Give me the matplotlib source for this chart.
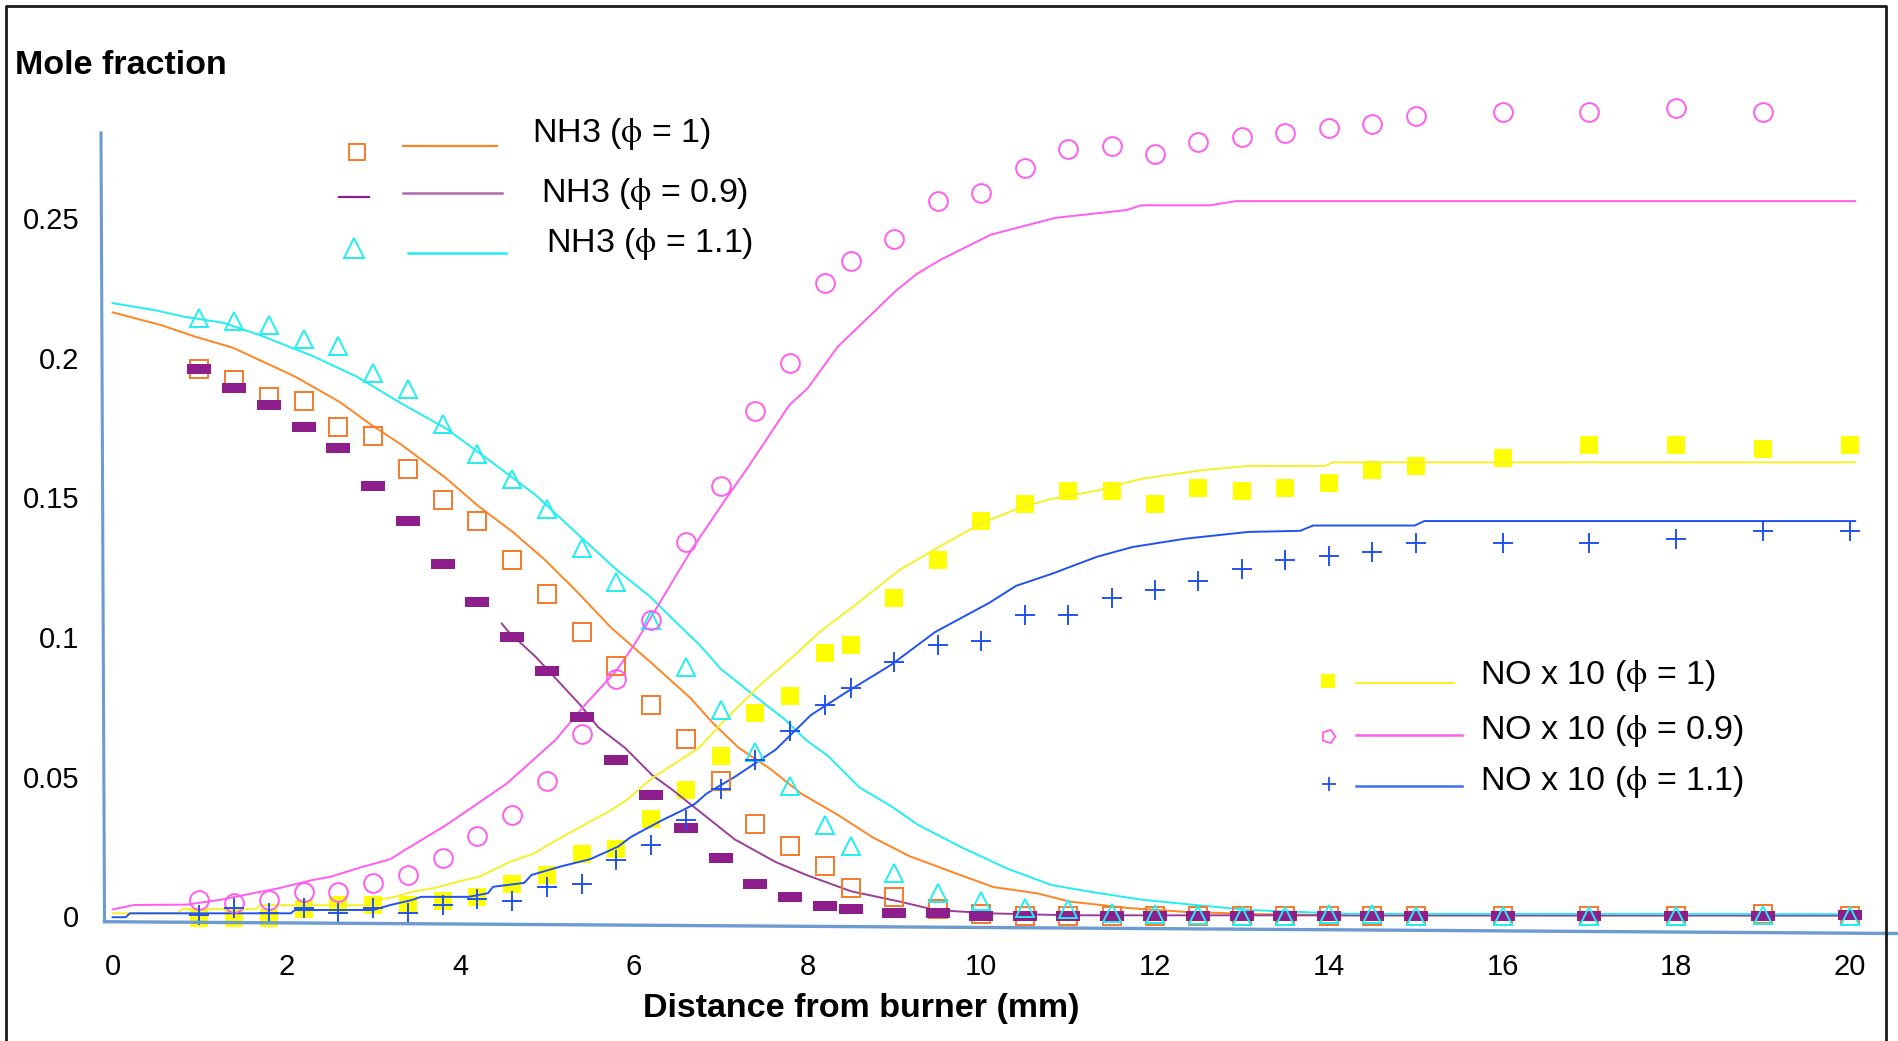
import matplotlib
matplotlib.use('Agg')
import matplotlib.pyplot as plt
from matplotlib.path import Path
from matplotlib.lines import Line2D

plt.rcParams['font.family'] = ['Liberation Sans', 'DejaVu Sans']
plt.rcParams['mathtext.fontset'] = 'stix'

# ---------------- data ----------------
x_exp = [1.0, 1.4, 1.8, 2.2, 2.6, 3.0, 3.4, 3.8, 4.2, 4.6, 5.0, 5.4, 5.8, 6.2, 6.6,
         7.0, 7.4, 7.8, 8.2, 8.5, 9.0, 9.5, 10, 10.5, 11, 11.5, 12, 12.5, 13, 13.5,
         14, 14.5, 15, 16, 17, 18, 19, 20]

nh3_phi1_exp = [0.196, 0.192, 0.186, 0.1845, 0.175, 0.172, 0.160, 0.149, 0.1415, 0.1276,
                0.1154, 0.1018, 0.0895, 0.0755, 0.0635, 0.0484, 0.0331, 0.0253, 0.0179, 0.010,
                0.007, 0.0026, 0.0009, 0.0, 0.0, 0.0, 0.0, 0.0, 0.0, 0.0,
                0.0, 0.0, 0.0, 0.0, 0.0, 0.0, 0.001, 0.0]
nh3_phi09_exp = [0.196, 0.189, 0.183, 0.175, 0.1675, 0.154, 0.1415, 0.126, 0.1125, 0.100,
                 0.088, 0.0712, 0.0561, 0.0436, 0.0315, 0.0209, 0.0115, 0.0071, 0.0038, 0.0026,
                 0.0011, 0.0011, 0.0, 0.0, 0.0, 0.0, 0.0, 0.0, 0.0, 0.0,
                 0.0, 0.0, 0.0, 0.0, 0.0, 0.0, 0.0, 0.0005]
nh3_phi11_exp = [0.214, 0.213, 0.2115, 0.2065, 0.204, 0.1944, 0.1887, 0.1764, 0.1654, 0.1565,
                 0.1457, 0.1319, 0.1197, 0.106, 0.0892, 0.0739, 0.0587, 0.0466, 0.0327, 0.0253,
                 0.0157, 0.0082, 0.0056, 0.003, 0.0025, 0.0012, 0.001, 0.0005, 0.0, 0.0,
                 0.001, 0.001, 0.0, 0.0, 0.0, 0.0, 0.0005, 0.0]

no_phi1_exp = [-0.0005, -0.0005, -0.0005, 0.0026, 0.0041, 0.0041, 0.0041, 0.0056, 0.007, 0.0117,
               0.0148, 0.0223, 0.024, 0.0348, 0.0451, 0.0573, 0.0727, 0.0788, 0.0941, 0.0971,
               0.1139, 0.1275, 0.1415, 0.1476, 0.1522, 0.1522, 0.1476, 0.1535, 0.1522, 0.1535,
               0.155, 0.1596, 0.1611, 0.1641, 0.1688, 0.1688, 0.1673, 0.1688]
x_no09_exp = x_exp[:-1]
no_phi09_exp = [0.0059, 0.0047, 0.0059, 0.0088, 0.0088, 0.0118, 0.0148, 0.0208, 0.0288, 0.0363,
                0.0483, 0.0652, 0.085, 0.106, 0.134, 0.154, 0.181, 0.198, 0.2268, 0.2346,
                0.2424, 0.256, 0.259, 0.268, 0.2746, 0.2757, 0.2728, 0.277, 0.279, 0.2805,
                0.282, 0.2836, 0.2865, 0.288, 0.288, 0.2895, 0.288]
no_phi11_exp = [0.0005, 0.0029, 0.0011, 0.0029, 0.0013, 0.0029, 0.0011, 0.0041, 0.0061, 0.0056,
                0.0106, 0.0116, 0.0202, 0.0256, 0.0345, 0.0456, 0.056, 0.0665, 0.0758, 0.0818,
                0.0911, 0.0971, 0.0986, 0.1077, 0.1077, 0.114, 0.117, 0.12, 0.1244, 0.1276,
                0.129, 0.1305, 0.1335, 0.1335, 0.1335, 0.135, 0.138, 0.138]

# model curves
x_nh3_phi1 = [0, 0.55, 0.96, 1.38, 1.79, 2.10, 2.61, 2.97, 3.33, 3.84, 4.20, 4.61, 4.97, 5.33,
              5.74, 6.21, 6.65, 6.91, 7.21, 7.57, 7.93, 8.34, 8.75, 9.17, 9.68, 10.14, 10.65,
              11.02, 11.69, 12.35, 13.2, 14.2, 20]
y_nh3_phi1 = [0.2162, 0.2117, 0.2074, 0.2036, 0.1977, 0.1932, 0.1842, 0.1761, 0.1687, 0.1568,
              0.1471, 0.1375, 0.1278, 0.1167, 0.1033, 0.0905, 0.0782, 0.0692, 0.0603, 0.0528,
              0.0439, 0.0365, 0.0283, 0.0216, 0.0157, 0.0105, 0.0082, 0.0053, 0.003, 0.0016,
              0.0008, 0.0004, 0.0004]
x_nh3_phi11 = [0, 0.5, 0.81, 1.27, 1.69, 2.30, 2.81, 3.33, 3.84, 4.36, 4.87, 5.33, 5.80, 6.19,
               6.50, 6.75, 7.0, 7.42, 7.73, 7.98, 8.24, 8.60, 8.96, 9.27, 9.78, 10.30, 10.81,
               11.22, 11.84, 12.56, 13.07, 14.24, 20]
y_nh3_phi11 = [0.2195, 0.2169, 0.2147, 0.2125, 0.2081, 0.2006, 0.1932, 0.1835, 0.1746, 0.1627,
               0.1508, 0.1375, 0.1241, 0.1144, 0.1048, 0.0974, 0.0886, 0.0782, 0.0707, 0.0632,
               0.0573, 0.0461, 0.0395, 0.0328, 0.0246, 0.0171, 0.0112, 0.009, 0.006, 0.0038,
               0.0023, 0.0009, 0.0008]
x_nh3_phi09 = [4.48, 4.56, 4.87, 5.18, 5.38, 5.59, 5.90, 6.21, 6.44, 6.80, 7.16, 7.63, 7.98,
               8.50, 9.06, 9.47, 10.09, 11, 20]
y_nh3_phi09 = [0.1048, 0.1018, 0.0929, 0.0825, 0.0758, 0.0677, 0.0603, 0.0506, 0.0454, 0.0365,
               0.0276, 0.0195, 0.0149, 0.009, 0.0053, 0.0023, 0.0011, 0.0004, 0.0003]
x_no_phi09 = [0, 0.25, 0.85, 1.25, 1.65, 1.9, 2.3, 2.51, 2.85, 3.2, 3.33, 3.84, 4.54, 5.10,
              5.44, 5.80, 6.0, 6.21, 6.67, 7.05, 7.32, 7.79, 8.0, 8.35, 9.02, 9.26, 9.53,
              10.11, 10.85, 11.67, 11.84, 12.63, 12.93, 20.06]
y_no_phi09 = [0.0025, 0.0041, 0.0042, 0.006, 0.0085, 0.010, 0.013, 0.0142, 0.0175, 0.0205,
              0.0231, 0.0327, 0.0476, 0.0632, 0.0758, 0.088, 0.097, 0.1077, 0.1315, 0.149,
              0.161, 0.183, 0.189, 0.204, 0.224, 0.230, 0.235, 0.244, 0.250, 0.2528,
              0.2545, 0.2545, 0.256, 0.256]
x_no_phi1 = [0, 0.75, 0.8, 1.65, 1.7, 2.94, 3.0, 3.25, 3.45, 3.71, 3.97, 4.22, 4.38, 4.58,
             4.84, 5.05, 5.25, 5.46, 5.71, 5.92, 6.21, 6.75, 7.06, 7.47, 7.83, 8.14, 8.55,
             9.06, 9.47, 9.99, 10.45, 10.81, 11.32, 11.84, 12.56, 13.07, 13.95, 14.05, 20.06]
y_no_phi1 = [0.0011, 0.0011, 0.0026, 0.0026, 0.004, 0.004, 0.0056, 0.007, 0.0088, 0.0102,
             0.0124, 0.0142, 0.0166, 0.0196, 0.0224, 0.0262, 0.0297, 0.0333, 0.0375, 0.0417,
             0.0495, 0.0603, 0.0707, 0.0833, 0.0929, 0.1018, 0.1115, 0.124, 0.1315, 0.1405,
             0.1464, 0.1494, 0.1523, 0.1566, 0.1598, 0.1612, 0.1612, 0.1625, 0.1625]
x_no_phi11 = [0, 0.15, 0.2, 2.05, 2.1, 3.0, 3.2, 3.45, 3.55, 4.1, 4.32, 4.38, 4.74, 4.82,
              5.15, 5.5, 5.82, 5.97, 6.12, 6.33, 6.53, 6.70, 6.84, 7.16, 7.63, 8.04, 8.45,
              8.96, 9.47, 10.09, 10.40, 10.81, 11.33, 11.74, 12.35, 13.07, 13.67, 13.82,
              14.99, 15.1, 20.06]
y_no_phi11 = [-0.0003, -0.0003, 0.0011, 0.0011, 0.0023, 0.0023, 0.0041, 0.0059, 0.007, 0.007,
              0.0083, 0.0106, 0.012, 0.0148, 0.0178, 0.0205, 0.025, 0.0285, 0.031, 0.0345,
              0.0375, 0.0402, 0.044, 0.0499, 0.0596, 0.0721, 0.0803, 0.090, 0.1018, 0.1122,
              0.1183, 0.1226, 0.1287, 0.1322, 0.1352, 0.1376, 0.138, 0.1399, 0.1399, 0.1415,
              0.1415]

x_ticks = [0, 2, 4, 6, 8, 10, 12, 14, 16, 18, 20]
y_ticks = [0, 0.05, 0.1, 0.15, 0.2, 0.25]
y_tick_labels = ['0', '0.05', '0.1', '0.15', '0.2', '0.25']

nh3_labels = [r'NH3 ($\mathrm{\phi}$ = 1)', r'NH3 ($\mathrm{\phi}$ = 0.9)', r'NH3 ($\mathrm{\phi}$ = 1.1)']
no_labels = [r'NO x 10 ($\mathrm{\phi}$ = 1)', r'NO x 10 ($\mathrm{\phi}$ = 0.9)', r'NO x 10 ($\mathrm{\phi}$ = 1.1)']

# ---------------- layout (pixels) ----------------
W, H = 1898, 1041
X0_PX, X20_PX = 112.6, 1850.0
Y0_PX, Y025_PX = 916.4, 217.9
AX_L, AX_R, AX_T, AX_B = 100, 1884, 10, 930

def px2x(px):
    return (px - X0_PX) * 20.0 / (X20_PX - X0_PX)

def py2y(py):
    return (Y0_PX - py) * 0.25 / (Y0_PX - Y025_PX)

def fx(px):
    return px / W

def fy(py):
    return 1 - py / H

C_ORANGE = '#FF8424'
C_ORANGE_M = '#F47A2A'
C_PURPLE = '#8E1E8C'
C_PURPLE_L = '#9A3E98'
C_CYAN = '#22EEF2'
C_YELLOW = '#FFFF00'
C_YELLOW_L = '#F6F02A'
C_PINK = '#FF5CF0'
C_BLUE = '#2152F0'
C_AXIS = '#6C9BD2'

bar_marker = Path([(-1, -0.45), (1, -0.45), (1, 0.45), (-1, 0.45), (-1, -0.45)],
                  [Path.MOVETO, Path.LINETO, Path.LINETO, Path.LINETO, Path.CLOSEPOLY])

fig = plt.figure(figsize=(W / 100, H / 100), dpi=100)
ax = fig.add_axes([fx(AX_L), fy(AX_B), fx(AX_R) - fx(AX_L), fy(AX_T) - fy(AX_B)])
ax.set_xlim(px2x(AX_L), px2x(AX_R))
ax.set_ylim(py2y(AX_B), py2y(AX_T))
for s in ax.spines.values():
    s.set_visible(False)
ax.patch.set_alpha(0)

# model lines
lw = 1.4
ax.plot(x_nh3_phi1, y_nh3_phi1, color=C_ORANGE, lw=lw, zorder=3)
ax.plot(x_nh3_phi09, y_nh3_phi09, color=C_PURPLE_L, lw=lw, zorder=3)
ax.plot(x_nh3_phi11, y_nh3_phi11, color=C_CYAN, lw=lw, zorder=3)
ax.plot(x_no_phi1, y_no_phi1, color=C_YELLOW_L, lw=lw, zorder=3)
ax.plot(x_no_phi09, y_no_phi09, color=C_PINK, lw=lw, zorder=3)
ax.plot(x_no_phi11, y_no_phi11, color=C_BLUE, lw=lw, zorder=3)

# experimental markers
ax.plot(x_exp, no_phi1_exp, ls='none', marker='s', ms=13.5, mfc=C_YELLOW, mec=C_YELLOW,
        mew=0, zorder=2, clip_on=False)
ax.plot(x_exp, nh3_phi1_exp, ls='none', marker='s', ms=13.0, mfc='none', mec=C_ORANGE_M,
        mew=1.4, zorder=4, clip_on=False)
ax.plot(x_exp, nh3_phi09_exp, ls='none', marker=bar_marker, ms=17, mfc=C_PURPLE,
        mec=C_PURPLE, mew=0, zorder=4.1, clip_on=False)
ax.plot(x_exp, nh3_phi11_exp, ls='none', marker='^', ms=13.0, mfc='none', mec=C_CYAN,
        mew=1.4, zorder=4.2, clip_on=False)
ax.plot(x_no09_exp, no_phi09_exp, ls='none', marker='o', ms=13.5, mfc='none', mec=C_PINK,
        mew=1.4, zorder=4.3, clip_on=False)
ax.plot(x_exp, no_phi11_exp, ls='none', marker='+', ms=14, mec=C_BLUE,
        mew=1.4, zorder=4.4, clip_on=False)

# ticks
ax.set_xticks(x_ticks)
ax.set_xticklabels([str(t) for t in x_ticks])
ax.set_yticks(y_ticks)
ax.set_yticklabels(y_tick_labels)
ax.tick_params(axis='both', length=0, labelsize=21, colors='black')
ax.tick_params(axis='x', pad=16.5)
ax.tick_params(axis='y', pad=15)

# tilted axis lines
fig.add_artist(Line2D([fx(101), fx(104.5)], [fy(133), fy(921.7)], color=C_AXIS, lw=2.2))
fig.add_artist(Line2D([fx(104.5), fx(1898)], [fy(921.7), fy(933.5)], color=C_AXIS, lw=2.4))

# outer frame
fig.add_artist(Line2D([fx(6), fx(6), fx(1886), fx(1886)], [fy(1041), fy(6), fy(6), fy(1041)],
                      color='#1a1a1a', lw=2))

# titles
fig.text(fx(15), fy(66), 'Mole fraction', fontsize=24.5, fontweight='bold', ha='left', va='center')
fig.text(fx(861), fy(1016.7), 'Distance from burner (mm)', fontsize=24.5, fontweight='bold',
         ha='center', va='baseline')

# NH3 legend
fig.add_artist(Line2D([fx(356.5)], [fy(152)], marker='s', ms=12, mfc='none', mec=C_ORANGE_M, mew=1.4, ls='none'))
fig.add_artist(Line2D([fx(403), fx(497)], [fy(146), fy(146)], color=C_ORANGE, lw=1.6))
fig.add_artist(Line2D([fx(339), fx(369)], [fy(197.3), fy(197.3)], color=C_PURPLE, lw=1.6))
fig.add_artist(Line2D([fx(403), fx(502)], [fy(192.7), fy(192.7)], color='#B068B0', lw=1.8))
fig.add_artist(Line2D([fx(354)], [fy(248)], marker='^', ms=14, mfc='none', mec=C_CYAN, mew=1.4, ls='none'))
fig.add_artist(Line2D([fx(408), fx(506)], [fy(252.7), fy(252.7)], color=C_CYAN, lw=1.8))
for lab, px, py in zip(nh3_labels, [532, 541, 546], [134, 194, 244.5]):
    fig.text(fx(px), fy(py), lab, fontsize=24.5, ha='left', va='center')

# NO legend
fig.add_artist(Line2D([fx(1328)], [fy(681)], marker='s', ms=10.5, mfc=C_YELLOW, mec=C_YELLOW, mew=0, ls='none'))
fig.add_artist(Line2D([fx(1356), fx(1454)], [fy(683), fy(683)], color=C_YELLOW_L, lw=1.5))
fig.add_artist(Line2D([fx(1328)], [fy(736)], marker=(5, 0, -90), ms=10, mfc='none', mec=C_PINK, mew=1.3, ls='none'))
fig.add_artist(Line2D([fx(1356), fx(1462)], [fy(734.7), fy(734.7)], color=C_PINK, lw=1.8))
fig.add_artist(Line2D([fx(1328.5)], [fy(784)], marker='+', ms=10, mec=C_BLUE, mew=1.3, ls='none'))
fig.add_artist(Line2D([fx(1356), fx(1462)], [fy(785.7), fy(785.7)], color='#3F6EF0', lw=1.8))
for lab, py in zip(no_labels, [676, 731, 782]):
    fig.text(fx(1480), fy(py), lab, fontsize=24.5, ha='left', va='center')

fig.savefig('out.png', dpi=100)
